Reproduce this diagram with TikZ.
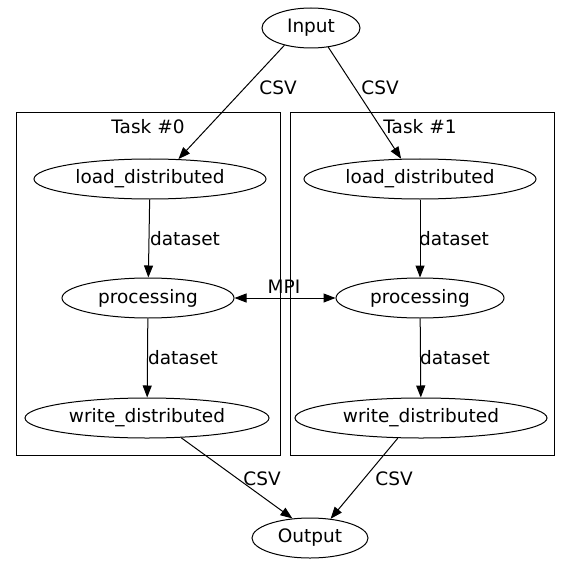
\documentclass[tikz,border=0pt]{standalone}
\usepackage{fontspec}
\setmainfont{DejaVu Sans}
\usetikzlibrary{shapes.geometric,arrows.meta}
\begin{document}
\begin{tikzpicture}
  [x=1pt,y=-1pt,line width=1pt,>={Triangle[length=12pt,width=9pt]},
   every node/.style={draw, ellipse, inner sep=0pt, minimum height=40pt, font=\fontsize{18.5}{22}\selectfont},
   lbl/.style={draw=none, rectangle, minimum height=0pt, inner sep=1pt}]
  \useasboundingbox[fill=white] (0,0) rectangle (571,580);

  \draw (16,113) rectangle (280,455);
  \draw (290,113) rectangle (554,455);
  \node[lbl] (t0) at (148,127) {Task \#0};
  \node[lbl] (t1) at (420,127) {Task \#1};

  \node[minimum width=98pt] (in) at (311,28) {Input};
  \node[minimum width=232pt] (ld0) at (150,179) {load\_distributed};
  \node[minimum width=232pt] (ld1) at (420,179) {load\_distributed};
  \node[minimum width=172pt] (pr0) at (148,298) {processing};
  \node[minimum width=168pt] (pr1) at (420,298) {processing};
  \node[minimum width=244pt] (wd0) at (147,418) {write\_distributed};
  \node[minimum width=252pt] (wd1) at (421,418) {write\_distributed};
  \node[minimum width=116pt] (out) at (310,538) {Output};

  \foreach \from/\to/\txt/\lx/\ly in {in.213/ld0.35/CSV/278/88, in.312/ld1.133/CSV/380/88,
      ld0/pr0/dataset/185/239, ld1/pr1/dataset/454/239,
      pr0/wd0/dataset/183/358, pr1/wd1/dataset/455/358,
      wd0.-30/out.132/CSV/262/479, wd1.-139/out.43/CSV/394/479}
    \draw[->] (\from) -- (\to) node[lbl] at (\lx,\ly) {\txt};

  \draw[<->] (pr0) -- (pr1) node[lbl] at (284,287) {MPI};
\end{tikzpicture}
\end{document}
